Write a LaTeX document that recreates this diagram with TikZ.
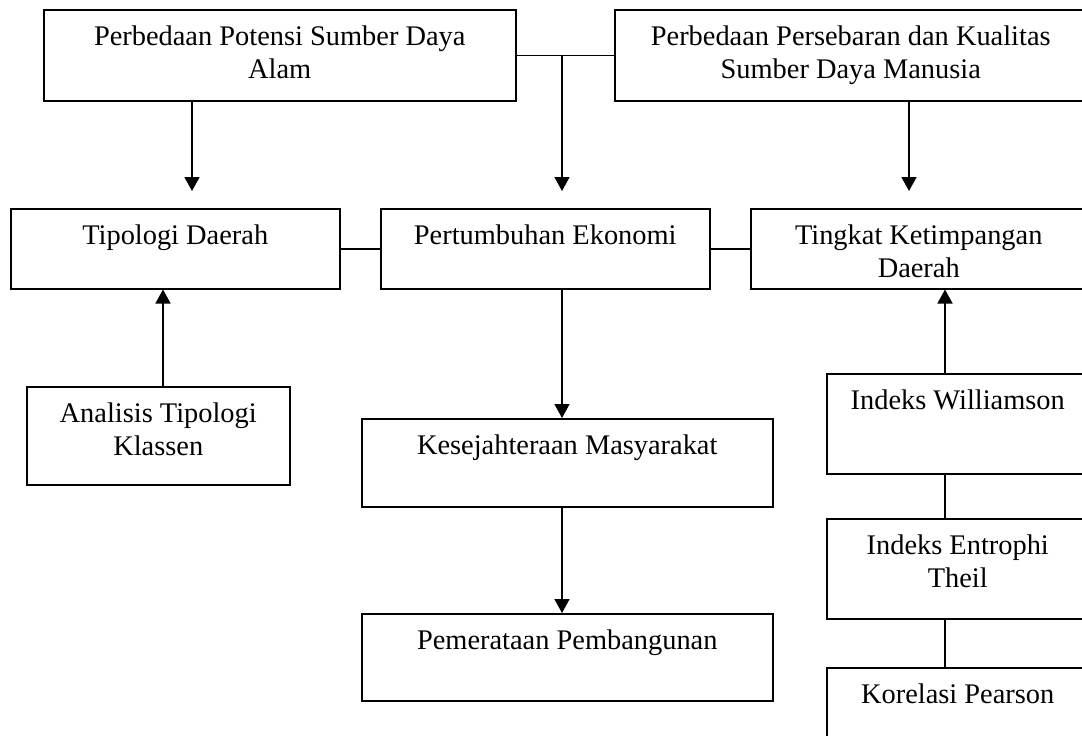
\documentclass[tikz,border=0pt]{standalone}
\usepackage{fontspec}
\setmainfont{Liberation Serif}
\usetikzlibrary{arrows.meta}

\tikzset{
	kotak/.style={draw, line width=1.5pt, anchor=north west, inner sep=0pt, align=flush center,
		text height=36pt, font=\fontsize{28.4pt}{32.6pt}\selectfont},
	garis/.style={line width=1.5pt},
	panah/.style={line width=1.5pt, -{Triangle[width=15pt,length=14pt]}},
}

\begin{document}
\begin{tikzpicture}[x=1pt, y=-1pt]
			%%%%% START %%%%%
			\useasboundingbox (0,0) rectangle (1082,736);
			\clip (0,0) rectangle (1082,736);
			
			\node[kotak, text width=472pt, text depth=55pt] (sda) at (43,9) {Perbedaan Potensi Sumber Daya\\Alam};
			\node[kotak, text width=472pt, text depth=55pt] (sdm) at (614,9) {Perbedaan Persebaran dan Kualitas\\Sumber Daya Manusia};
			
			\node[kotak, text width=329pt, text depth=44pt] (tipologi) at (10,208) {Tipologi Daerah};
			\node[kotak, text width=329pt, text depth=44pt] (pertumbuhan) at (380,208) {Pertumbuhan Ekonomi};
			\node[kotak, text width=336pt, text depth=44pt] (ketimpangan) at (750,208) {Tingkat Ketimpangan\\Daerah};
			
			\node[kotak, text width=263pt, text depth=62pt] (klassen) at (26,386) {Analisis Tipologi\\Klassen};
			\node[kotak, text width=411pt, text depth=52pt] (sejahtera) at (361,418) {Kesejahteraan Masyarakat};
			\node[kotak, text width=411pt, text depth=51pt] (pemerataan) at (361,613) {Pemerataan Pembangunan};
			
			\node[kotak, text width=262pt, text depth=64pt] (williamson) at (826,373) {Indeks Williamson};
			\node[kotak, text width=262pt, text depth=64pt] (theil) at (826,518) {Indeks Entrophi\\Theil};
			\node[kotak, text width=262pt, text depth=64pt] (pearson) at (826,667) {Korelasi Pearson};
			
			\coordinate (simpul) at (562,54.5);
			\coordinate (kolomA) at (192,0);
			\coordinate (kolomB) at (909,0);
			\coordinate (kolomC) at (163,0);
			\coordinate (kolomD) at (945,0);
			
			\draw[garis] (sda) -- (sdm);
			\draw[panah, shorten >=17pt] (simpul) -- (pertumbuhan.north -| simpul);
			\draw[panah, shorten >=17pt] (sda.south -| kolomA) -- (tipologi.north -| kolomA);
			\draw[panah, shorten >=17pt] (sdm.south -| kolomB) -- (ketimpangan.north -| kolomB);
			
			\draw[garis] (tipologi) -- (pertumbuhan);
			\draw[garis] (pertumbuhan) -- (ketimpangan);
			
			\draw[panah] (klassen.north -| kolomC) -- (tipologi.south -| kolomC);
			\draw[panah] (pertumbuhan.south -| simpul) -- (sejahtera.north -| simpul);
			\draw[panah] (sejahtera.south -| simpul) -- (pemerataan.north -| simpul);
			
			\draw[panah] (williamson.north -| kolomD) -- (ketimpangan.south -| kolomD);
			\draw[garis] (williamson.south -| kolomD) -- (theil.north -| kolomD);
			\draw[garis] (theil.south -| kolomD) -- (pearson.north -| kolomD);
			
			%%%%% END %%%%%
\end{tikzpicture}
\end{document}
